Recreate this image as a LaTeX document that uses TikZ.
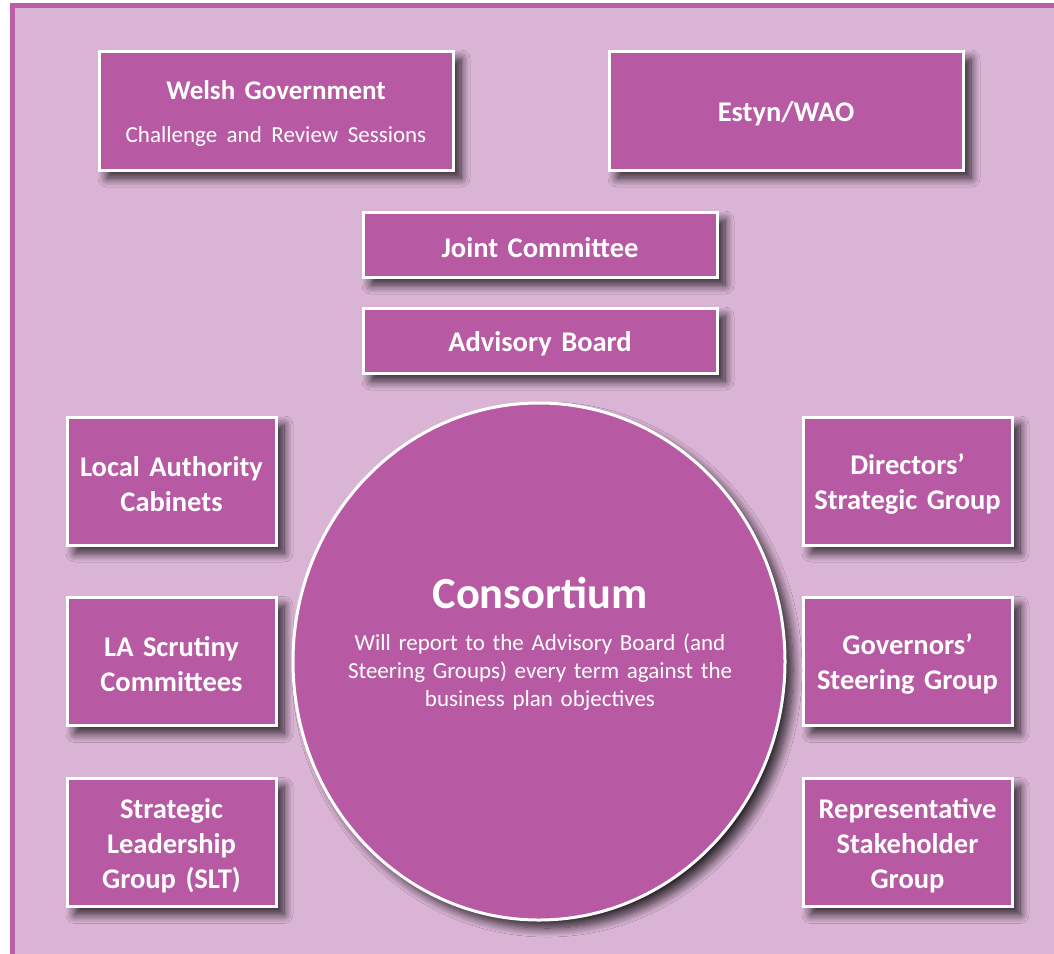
\documentclass[tikz,border=0pt]{standalone}
\usepackage{fontspec}
\setmainfont{Carlito}
\usetikzlibrary{shapes.geometric,shadows.blur}
\definecolor{bgpink}{HTML}{DAB4D5}
\definecolor{framepurple}{HTML}{BB5EA8}
\definecolor{boxpurple}{HTML}{B75AA3}
\tikzset{
  shadowed/.style={blur shadow={shadow xshift=8pt, shadow yshift=-8pt, shadow blur radius=9pt, shadow opacity=80, shadow blur steps=12}},
  orgbox/.style={shadowed, rectangle, fill=boxpurple, draw=white, line width=3pt, inner sep=0pt},
  widebox/.style={orgbox, minimum width=354pt},
  sidebox/.style={orgbox, minimum width=209pt, minimum height=128pt},
  txt/.style={text=white, align=center, inner sep=0pt},
  boxtxt/.style={txt, font=\fontsize{28.5}{35}\selectfont\bfseries, text width=340pt}
}
\begin{document}
\begin{tikzpicture}[x=1pt,y=-1pt]
\useasboundingbox (0,0) rectangle (1054,953);
\begin{scope}
\clip (0,0) rectangle (1054,953);
\fill[framepurple] (10,3) rectangle (1070,970);
\fill[bgpink] (15,8) rectangle (1070,970);
\end{scope}
% top boxes
\node[widebox, minimum height=119pt] (wg) at (276,110.5) {};
\node[boxtxt] (wgt) at ([yshift=-3pt]wg.center)
  {{\fontsize{27}{30}\selectfont Welsh Government}\\[8pt]{\fontsize{23}{26}\selectfont\mdseries Challenge and Review Sessions}};
\node[widebox, minimum height=119pt] (estyn) at (786,110.5) {};
\node[boxtxt] (estynt) at ([yshift=-3pt]estyn.center) {Estyn/WAO};
\node[widebox, minimum height=65pt] (jc) at (540,244.5) {};
\node[boxtxt] (jct) at ([yshift=-3pt]jc.center) {Joint Committee};
\node[widebox, minimum height=65pt] (ab) at (540,340.5) {};
\node[boxtxt] (abt) at ([yshift=-3pt]ab.center) {Advisory Board};
% side boxes
\node[sidebox] (lac) at (171.5,481) {};
\node[boxtxt] (lact) at ([yshift=-3pt]lac.center) {Local Authority\\Cabinets};
\node[sidebox] (las) at (171.5,661.5) {};
\node[boxtxt] (last) at ([yshift=-3pt]las.center) {LA Scrutiny\\Committees};
\node[sidebox] (slg) at (171.5,842.5) {};
\node[boxtxt] (slgt) at ([yshift=-3pt]slg.center) {Strategic\\Leadership\\Group (SLT)};
\node[sidebox] (dsg) at (907.5,481) {};
\node[boxtxt] (dsgt) at ([yshift=-3pt]dsg.center) {Directors’\\Strategic Group};
\node[sidebox] (gsg) at (907.5,661.5) {};
\node[boxtxt] (gsgt) at ([yshift=-3pt]gsg.center) {Governors’\\Steering Group};
\node[sidebox] (rsg) at (907.5,842.5) {};
\node[boxtxt] (rsgt) at ([yshift=-3pt]rsg.center) {Representative\\Stakeholder\\Group};
% consortium
\node[shadowed, ellipse, fill=boxpurple, draw=white, line width=3pt, inner sep=0pt,
  minimum width=492pt, minimum height=517pt] (cons) at (539,661.5) {};
\node[txt, font=\fontsize{44.5}{50}\selectfont\bfseries] (ctitle) at (540,593) {Consortium};
\node[txt, font=\fontsize{23}{28}\selectfont, text width=440pt] (cbody) at (540,672)
  {Will report to the Advisory Board (and\\Steering Groups) every term against the\\business plan objectives};
\end{tikzpicture}
\end{document}
